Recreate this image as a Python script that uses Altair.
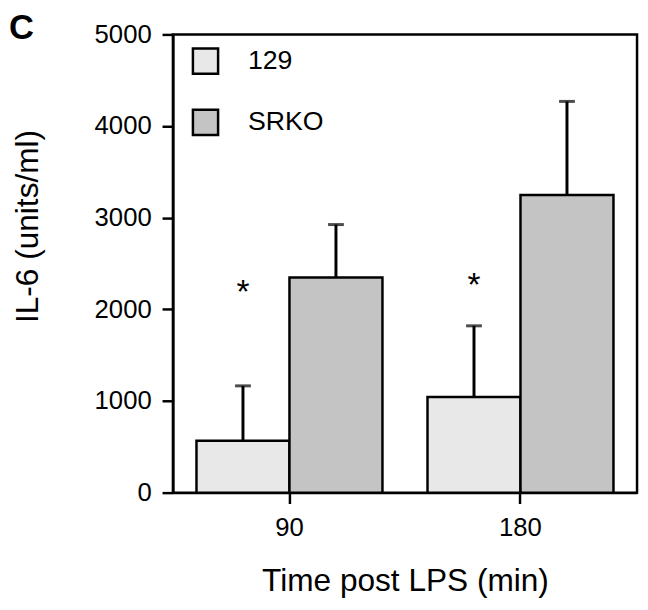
import altair as alt
import pandas as pd

# ---- data ----
times = ["90", "180"]
groups = ["129", "SRKO"]
mean_129 = [567, 1043]
mean_srko = [2347, 3247]
upper_129 = [1165, 1820]
upper_srko = [2925, 4269]
star_times = ["90", "180"]
star_y = [2070, 2150]
panel_label = ["C"]
y_ticks = [0, 1000, 2000, 3000, 4000, 5000]
fills = ["#e8e8e8", "#c4c4c4"]

rows = []
for i, t in enumerate(times):
    rows.append(dict(time=t, group=groups[0], mean=mean_129[i], upper=upper_129[i]))
    rows.append(dict(time=t, group=groups[1], mean=mean_srko[i], upper=upper_srko[i]))
df = pd.DataFrame(rows)
stars = pd.DataFrame(dict(time=star_times, group=[groups[0]] * len(star_times),
                          y=star_y, label=["*"] * len(star_times)))
panel = pd.DataFrame(dict(label=panel_label))

FONT = "Liberation Sans"

x_axis = alt.Axis(title="Time post LPS (min)", labelAngle=0, labelPadding=11,
                  titleY=99, titleBaseline="alphabetic", titleFontSize=32)
y_axis = alt.Axis(title="IL-6 (units/ml)", values=y_ticks, format="d", labelPadding=11,
                  titleAngle=270, titleX=-147, titleY=194, titleBaseline="middle",
                  titleAlign="center", titleFontSize=32)

x_enc = alt.X("time:N", sort=times,
              scale=alt.Scale(paddingInner=0.195, paddingOuter=0.102),
              axis=x_axis)
xo_enc = alt.XOffset("group:N", sort=groups,
                     scale=alt.Scale(paddingInner=0, paddingOuter=0))
y_scale = alt.Scale(domain=[0, 5000], nice=False)

bars = alt.Chart(df).mark_bar(stroke="black", strokeWidth=2.5).encode(
    x=x_enc,
    xOffset=xo_enc,
    y=alt.Y("mean:Q", scale=y_scale, axis=y_axis),
    fill=alt.Fill("group:N", sort=groups,
                  scale=alt.Scale(domain=groups, range=fills),
                  legend=alt.Legend(title=None, orient="none", legendX=19, legendY=13,
                                    symbolType="square", symbolSize=650,
                                    symbolStrokeColor="black", symbolStrokeWidth=2.5,
                                    labelFontSize=27, labelFont=FONT, labelColor="black",
                                    labelOffset=29, rowPadding=26, padding=0)),
)

stems = alt.Chart(df).mark_rule(color="black", strokeWidth=3).encode(
    x=x_enc,
    xOffset=xo_enc,
    y=alt.Y("mean:Q", scale=y_scale, axis=y_axis),
    y2="upper:Q",
)

caps = alt.Chart(df).mark_tick(color="black", thickness=3, size=16).encode(
    x=x_enc,
    xOffset=xo_enc,
    y=alt.Y("upper:Q", scale=y_scale, axis=y_axis),
)

star_text = alt.Chart(stars).mark_text(fontSize=34, font=FONT, baseline="alphabetic",
                                       align="center", color="black").encode(
    x=x_enc,
    xOffset=xo_enc,
    y=alt.Y("y:Q", scale=y_scale, axis=y_axis),
    text="label:N",
)

label_c = alt.Chart(panel).mark_text(fontSize=35, font=FONT, fontWeight="bold",
                                     baseline="alphabetic", align="left",
                                     color="black").encode(
    x=alt.value(-166),
    y=alt.value(5),
    text="label:N",
)

chart = alt.layer(bars, stems, caps, star_text, label_c).properties(
    width=470,
    height=464,
    autosize=alt.AutoSizeParams(type="none"),
    padding={"left": 167, "top": 23, "right": 3, "bottom": 106},
).configure_view(
    stroke="black", strokeWidth=2.5
).configure_axis(
    domainColor="black", domainWidth=2.5, tickColor="black", tickWidth=2.5,
    tickSize=11, labelFont=FONT, labelFontSize=26, labelColor="black",
    titleFont=FONT, titleFontWeight="normal", titleColor="black",
    grid=False,
)

chart.save("out.html", embed_options={"renderer": "svg", "actions": False})
